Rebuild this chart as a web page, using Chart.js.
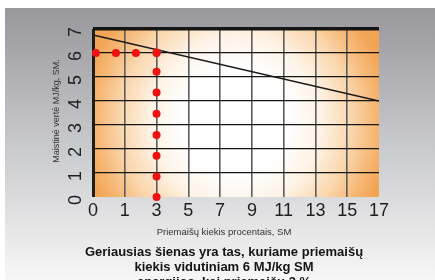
<!DOCTYPE html>
<html><head><meta charset="utf-8">
<script src="https://cdn.jsdelivr.net/npm/chart.js@4"></script>
<style>html,body{margin:0;padding:0;background:#fff;}#wrap{position:relative;width:435px;height:280px;}</style>
</head><body><div id="wrap"><canvas id="c" width="435" height="280"></canvas></div>
<script>
// ---- data ----
const xTickLabels = ['0','1','3','5','7','9','11','13','15','17'];
const yMin = 0, yMax = 7;
const trendPos = [0, 9];
const trendValues = [6.75, 4.0];
const rowDotPos = [0.09, 0.72, 1.35, 2];
const rowDotValues = [6, 6, 6, 6];
const colDotPos = [2, 2, 2, 2, 2, 2, 2, 2];
const colDotValues = [6.02, 5.22, 4.35, 3.47, 2.58, 1.72, 0.85, 0];
const yTitle = 'Maistinė vertė MJ/kg, SM.';
const xTitle = 'Priemaišų kiekis procentais, SM';
const caption = ['Geriausias šienas yra tas, kuriame priemaišų', 'kiekis vidutiniam 6 MJ/kg SM', 'energijos, kai priemaišų 3 %'];

const toPts = (xs, ys) => xs.map((x, i) => ({x: x, y: ys[i]}));
const FONT = "'Liberation Sans', Arial, sans-serif";

const deco = {
  id: 'deco',
  beforeDraw(chart) {
    const {ctx, chartArea: a} = chart;
    ctx.save();
    ctx.fillStyle = '#ffffff';
    ctx.fillRect(0, 0, chart.width, chart.height);
    const g = ctx.createLinearGradient(0, 8, 0, 280);
    g.addColorStop(0, '#98979c');
    g.addColorStop(0.5, '#c8c9cc');
    g.addColorStop(1, '#f7f7f7');
    ctx.fillStyle = g;
    ctx.fillRect(5, 8, chart.width - 5, chart.height - 8);
    ctx.beginPath();
    ctx.rect(a.left, a.top, a.right - a.left, a.bottom - a.top);
    ctx.clip();
    const cx = (a.left + a.right) / 2, cy = (a.top + a.bottom) / 2 + 8;
    const rad = 155;
    const r = ctx.createRadialGradient(cx, cy, 0, cx, cy, rad);
    r.addColorStop(0, '#ffffff');
    r.addColorStop(0.35, '#ffffff');
    r.addColorStop(0.55, '#fef3e6');
    r.addColorStop(0.75, '#fad6ac');
    r.addColorStop(0.9, '#f6b774');
    r.addColorStop(1, '#f3a556');
    ctx.fillStyle = r;
    ctx.fillRect(a.left, a.top, a.right - a.left, a.bottom - a.top);
    ctx.restore();
  },
  afterDraw(chart) {
    const ctx = chart.ctx;
    ctx.save();
    ctx.fillStyle = '#333';
    ctx.font = '9px ' + FONT;
    ctx.textAlign = 'center';
    ctx.textBaseline = 'middle';
    ctx.save();
    ctx.translate(57, 111);
    ctx.rotate(-Math.PI / 2);
    ctx.fillText(yTitle, 0, 0);
    ctx.restore();
    ctx.font = '9.5px ' + FONT;
    ctx.fillText(xTitle, 224, 232);
    ctx.fillStyle = '#141414';
    ctx.font = 'bold 13px ' + FONT;
    caption.forEach((t, i) => ctx.fillText(t, 224, 252 + i * 15));
    ctx.restore();
  }
};

new Chart(document.getElementById('c'), {
  type: 'scatter',
  data: {
    datasets: [
      {data: toPts(rowDotPos, rowDotValues), pointRadius: 4, pointBackgroundColor: '#ee1111', pointBorderWidth: 0, showLine: false, clip: false},
      {data: toPts(colDotPos, colDotValues), pointRadius: 4, pointBackgroundColor: '#ee1111', pointBorderWidth: 0, showLine: false, clip: false},
      {data: toPts(trendPos, trendValues), showLine: true, borderColor: '#1a1a1a', borderWidth: 1.6, pointRadius: 0, fill: false}
    ]
  },
  options: {
    responsive: false,
    animation: false,
    devicePixelRatio: 1,
    layout: {padding: {left: 0, right: 56, top: 29, bottom: 0}},
    plugins: {legend: {display: false}, tooltip: {enabled: false}},
    scales: {
      x: {
        type: 'linear', min: 0, max: 9,
        afterFit: s => { s.height = 83; },
        border: {display: false},
        grid: {
          drawTicks: false,
          color: c => c.tick.value === 0 ? '#1c1c1c' : (c.tick.value === 9 ? 'rgba(0,0,0,0)' : '#5c5c5c'),
          lineWidth: c => c.tick.value === 0 ? 3 : (c.tick.value === 9 ? 0 : 1.6)
        },
        ticks: {
          stepSize: 1, autoSkip: false, maxRotation: 0, padding: 3,
          color: '#1e1e1e', font: {family: FONT, size: 18},
          callback: v => xTickLabels[v]
        }
      },
      y: {
        type: 'linear', min: yMin, max: yMax,
        afterFit: s => { s.width = 93; },
        border: {display: false},
        grid: {
          drawTicks: false,
          color: c => c.tick.value === 0 ? 'rgba(0,0,0,0)' : '#151515',
          lineWidth: c => c.tick.value === 7 ? 3.5 : (c.tick.value === 0 ? 0 : 1.3)
        },
        ticks: {
          stepSize: 1, minRotation: 90, maxRotation: 90, crossAlign: 'center', padding: 12, labelOffset: 3,
          color: '#1e1e1e', font: {family: FONT, size: 18}
        }
      }
    }
  },
  plugins: [deco]
});
</script></body></html>
